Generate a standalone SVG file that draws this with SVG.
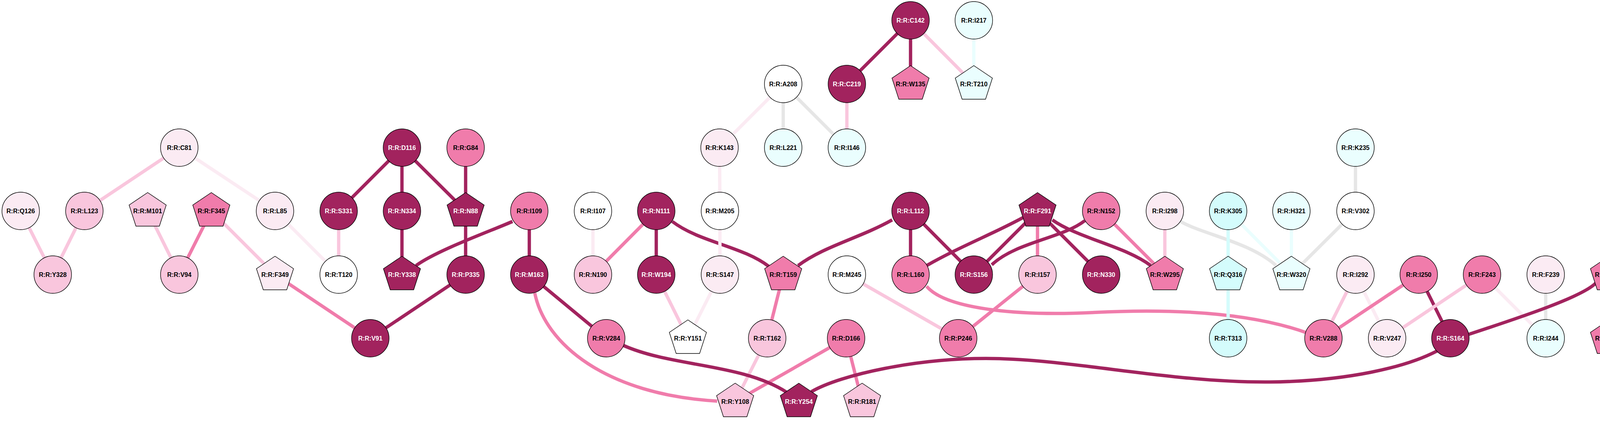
<svg xmlns="http://www.w3.org/2000/svg" xmlns:xlink="http://www.w3.org/1999/xlink" width="4336" height="1083" viewBox="0 0 4336 1083">
<style>
.e{fill:none;stroke-width:8.5}
.ed{stroke:#A2235E}.em{stroke:#F07CAB}.el{stroke:#F9C6DD}.ev{stroke:#FBEBF3}.eg{stroke:#E6E6E6}.ec{stroke:#D4FCFC}.elc{stroke:#EAFEFE}
.n{stroke:#000;stroke-width:1.4}
.d{fill:#A2235E}.m{fill:#F07CAB}.l{fill:#F9C6DD}.v{fill:#FBEBF3}.w{fill:#FFFFFF}.c{fill:#D4FCFC}.lc{fill:#EAFEFE}
text{font-family:"Liberation Sans",Arial,sans-serif;font-weight:bold;font-size:16px;text-anchor:middle;fill:#000}
text.t{fill:#fff}
</style>
<defs>
<polygon id="pent" points="0,-47 47.5,-15 30,39 -30,39 -47.5,-15"/>
</defs>
<g id="connectors">
<line class="e el" x1="459" y1="378" x2="216" y2="540"/>
<line class="e ev" x1="459" y1="378" x2="704" y2="540"/>
<line class="e el" x1="53" y1="540" x2="135" y2="703"/>
<line class="e el" x1="216" y1="540" x2="135" y2="703"/>
<line class="e el" x1="378" y1="540" x2="459" y2="703"/>
<line class="e em" x1="541" y1="540" x2="459" y2="703"/>
<line class="e el" x1="541" y1="540" x2="704" y2="703"/>
<line class="e ev" x1="704" y1="540" x2="867" y2="703"/>
<line class="e el" x1="867" y1="540" x2="867" y2="703"/>
<line class="e em" x1="704" y1="703" x2="948" y2="866"/>
<line class="e ed" x1="1029" y1="378" x2="867" y2="540"/>
<line class="e ed" x1="1029" y1="378" x2="1029" y2="540"/>
<line class="e ed" x1="1029" y1="378" x2="1192" y2="540"/>
<line class="e ed" x1="1192" y1="378" x2="1192" y2="540"/>
<line class="e ed" x1="1029" y1="540" x2="1029" y2="703"/>
<line class="e ed" x1="1192" y1="540" x2="1192" y2="703"/>
<path class="e ed" d="M1312,567 C1260,590 1120,640 1065,680"/>
<line class="e ed" x1="1355" y1="540" x2="1355" y2="703"/>
<line class="e ed" x1="1192" y1="703" x2="948" y2="866"/>
<line class="e ev" x1="1518" y1="540" x2="1518" y2="703"/>
<line class="e em" x1="1680" y1="540" x2="1518" y2="703"/>
<line class="e ed" x1="1680" y1="540" x2="1680" y2="703"/>
<path class="e ed" d="M1721,567 C1790,620 1900,630 1968,682"/>
<line class="e ed" x1="1355" y1="703" x2="1552" y2="866"/>
<path class="e em" d="M1369,750 C1395,880 1550,1010 1836,1027"/>
<line class="e el" x1="1680" y1="703" x2="1761" y2="866"/>
<line class="e ev" x1="1843" y1="703" x2="1761" y2="866"/>
<line class="e ev" x1="1843" y1="540" x2="1843" y2="703"/>
<line class="e ev" x1="1842" y1="378" x2="1843" y2="540"/>
<line class="e ev" x1="2005" y1="215" x2="1842" y2="378"/>
<line class="e eg" x1="2005" y1="215" x2="2005" y2="378"/>
<line class="e eg" x1="2005" y1="215" x2="2168" y2="378"/>
<line class="e el" x1="2168" y1="215" x2="2168" y2="378"/>
<line class="e ed" x1="2331" y1="52" x2="2168" y2="215"/>
<line class="e ed" x1="2331" y1="52" x2="2331" y2="215"/>
<line class="e el" x1="2331" y1="52" x2="2493" y2="215"/>
<line class="e elc" x1="2493" y1="52" x2="2493" y2="215"/>
<path class="e ed" d="M2284,563 C2200,610 2110,630 2043,680"/>
<line class="e ed" x1="2331" y1="540" x2="2331" y2="703"/>
<line class="e ed" x1="2331" y1="540" x2="2493" y2="703"/>
<line class="e em" x1="2005" y1="703" x2="1964" y2="866"/>
<line class="e el" x1="1964" y1="866" x2="1882" y2="1028"/>
<line class="e em" x1="2166" y1="866" x2="1882" y2="1028"/>
<line class="e em" x1="2166" y1="866" x2="2207" y2="1028"/>
<path class="e ed" d="M1595,884 C1720,940 1900,930 2015,1005"/>
<line class="e el" x1="2168" y1="703" x2="2453" y2="866"/>
<path class="e ed" d="M2619,557 C2540,600 2460,630 2372,680"/>
<line class="e ed" x1="2656" y1="540" x2="2493" y2="703"/>
<line class="e em" x1="2656" y1="540" x2="2656" y2="703"/>
<line class="e ed" x1="2656" y1="540" x2="2819" y2="703"/>
<path class="e ed" d="M2694,563 C2760,610 2880,630 2946,680"/>
<path class="e ed" d="M2777,565 C2720,610 2600,620 2539,678"/>
<line class="e em" x1="2819" y1="540" x2="2982" y2="703"/>
<line class="e el" x1="2982" y1="540" x2="2982" y2="703"/>
<path class="e eg" d="M3022,567 C3080,600 3200,620 3267,680"/>
<path class="e em" d="M2372,733 C2420,790 2600,810 2800,800 C3000,790 3200,800 3345,852"/>
<line class="e em" x1="2656" y1="703" x2="2453" y2="866"/>
<path class="e ed" d="M2077,1003 C2150,960 2350,915 2544,918 C2750,921 3000,980 3250,978 C3450,976 3600,940 3680,898"/>
<line class="e ec" x1="3144" y1="540" x2="3144" y2="703"/>
<line class="e elc" x1="3144" y1="540" x2="3306" y2="703"/>
<line class="e elc" x1="3306" y1="540" x2="3306" y2="703"/>
<line class="e eg" x1="3470" y1="540" x2="3306" y2="703"/>
<line class="e eg" x1="3470" y1="378" x2="3470" y2="540"/>
<line class="e ec" x1="3144" y1="703" x2="3144" y2="866"/>
<line class="e el" x1="3470" y1="703" x2="3388" y2="866"/>
<line class="e ev" x1="3470" y1="703" x2="3551" y2="866"/>
<line class="e em" x1="3632" y1="703" x2="3388" y2="866"/>
<line class="e ed" x1="3632" y1="703" x2="3713" y2="866"/>
<line class="e el" x1="3794" y1="703" x2="3551" y2="866"/>
<line class="e ev" x1="3794" y1="703" x2="3957" y2="866"/>
<line class="e eg" x1="3957" y1="703" x2="3957" y2="866"/>
<path class="e ed" d="M4085,725 C4050,760 3900,810 3760,856"/>
<line class="e em" x1="4119" y1="703" x2="4119" y2="866"/>
<line class="e em" x1="4282" y1="703" x2="4119" y2="866"/>
<line class="e ev" x1="4282" y1="703" x2="4282" y2="866"/>
<line class="e ev" x1="4282" y1="866" x2="4282" y2="1028"/>
</g>
<g id="nodes">
<g id="C142"><circle class="n d" cx="2331" cy="52" r="48"/><text class="t" x="2331" y="57.5">R:R:C142</text></g>
<g id="I217"><circle class="n lc" cx="2493" cy="52" r="48"/><text x="2493" y="57.5">R:R:I217</text></g>
<g id="A208"><circle class="n w" cx="2005" cy="215" r="48"/><text x="2005" y="220.5">R:R:A208</text></g>
<g id="C219"><circle class="n d" cx="2168" cy="215" r="48"/><text class="t" x="2168" y="220.5">R:R:C219</text></g>
<g id="W135"><use xlink:href="#pent" class="n m" x="2331" y="215"/><text x="2331" y="220.5">R:R:W135</text></g>
<g id="T210"><use xlink:href="#pent" class="n lc" x="2493" y="215"/><text x="2493" y="220.5">R:R:T210</text></g>
<g id="C81"><circle class="n v" cx="459" cy="378" r="48"/><text x="459" y="383.5">R:R:C81</text></g>
<g id="D116"><circle class="n d" cx="1029" cy="378" r="48"/><text class="t" x="1029" y="383.5">R:R:D116</text></g>
<g id="G84"><circle class="n m" cx="1192" cy="378" r="48"/><text x="1192" y="383.5">R:R:G84</text></g>
<g id="K143"><circle class="n v" cx="1842" cy="378" r="48"/><text x="1842" y="383.5">R:R:K143</text></g>
<g id="L221"><circle class="n lc" cx="2005" cy="378" r="48"/><text x="2005" y="383.5">R:R:L221</text></g>
<g id="I146"><circle class="n lc" cx="2168" cy="378" r="48"/><text x="2168" y="383.5">R:R:I146</text></g>
<g id="K235"><circle class="n lc" cx="3470" cy="378" r="48"/><text x="3470" y="383.5">R:R:K235</text></g>
<g id="Q126"><circle class="n v" cx="53" cy="540" r="48"/><text x="53" y="545.5">R:R:Q126</text></g>
<g id="L123"><circle class="n l" cx="216" cy="540" r="48"/><text x="216" y="545.5">R:R:L123</text></g>
<g id="M101"><use xlink:href="#pent" class="n l" x="378" y="540"/><text x="378" y="545.5">R:R:M101</text></g>
<g id="F345"><use xlink:href="#pent" class="n m" x="541" y="540"/><text x="541" y="545.5">R:R:F345</text></g>
<g id="L85"><circle class="n v" cx="704" cy="540" r="48"/><text x="704" y="545.5">R:R:L85</text></g>
<g id="S331"><circle class="n d" cx="867" cy="540" r="48"/><text class="t" x="867" y="545.5">R:R:S331</text></g>
<g id="N334"><circle class="n d" cx="1029" cy="540" r="48"/><text class="t" x="1029" y="545.5">R:R:N334</text></g>
<g id="N88"><use xlink:href="#pent" class="n d" x="1192" y="540"/><text class="t" x="1192" y="545.5">R:R:N88</text></g>
<g id="I109"><circle class="n m" cx="1355" cy="540" r="48"/><text x="1355" y="545.5">R:R:I109</text></g>
<g id="I107"><circle class="n w" cx="1518" cy="540" r="48"/><text x="1518" y="545.5">R:R:I107</text></g>
<g id="N111"><circle class="n d" cx="1680" cy="540" r="48"/><text class="t" x="1680" y="545.5">R:R:N111</text></g>
<g id="M205"><circle class="n w" cx="1843" cy="540" r="48"/><text x="1843" y="545.5">R:R:M205</text></g>
<g id="L112"><circle class="n d" cx="2331" cy="540" r="48"/><text class="t" x="2331" y="545.5">R:R:L112</text></g>
<g id="F291"><use xlink:href="#pent" class="n d" x="2656" y="540"/><text class="t" x="2656" y="545.5">R:R:F291</text></g>
<g id="N152"><circle class="n m" cx="2819" cy="540" r="48"/><text x="2819" y="545.5">R:R:N152</text></g>
<g id="I298"><circle class="n v" cx="2982" cy="540" r="48"/><text x="2982" y="545.5">R:R:I298</text></g>
<g id="K305"><circle class="n c" cx="3144" cy="540" r="48"/><text x="3144" y="545.5">R:R:K305</text></g>
<g id="H321"><circle class="n lc" cx="3306" cy="540" r="48"/><text x="3306" y="545.5">R:R:H321</text></g>
<g id="V302"><circle class="n w" cx="3470" cy="540" r="48"/><text x="3470" y="545.5">R:R:V302</text></g>
<g id="Y328"><circle class="n l" cx="135" cy="703" r="48"/><text x="135" y="708.5">R:R:Y328</text></g>
<g id="V94"><circle class="n l" cx="459" cy="703" r="48"/><text x="459" y="708.5">R:R:V94</text></g>
<g id="F349"><use xlink:href="#pent" class="n v" x="704" y="703"/><text x="704" y="708.5">R:R:F349</text></g>
<g id="T120"><circle class="n w" cx="867" cy="703" r="48"/><text x="867" y="708.5">R:R:T120</text></g>
<g id="Y338"><use xlink:href="#pent" class="n d" x="1029" y="703"/><text class="t" x="1029" y="708.5">R:R:Y338</text></g>
<g id="P335"><circle class="n d" cx="1192" cy="703" r="48"/><text class="t" x="1192" y="708.5">R:R:P335</text></g>
<g id="M163"><circle class="n d" cx="1355" cy="703" r="48"/><text class="t" x="1355" y="708.5">R:R:M163</text></g>
<g id="N190"><circle class="n l" cx="1518" cy="703" r="48"/><text x="1518" y="708.5">R:R:N190</text></g>
<g id="W194"><circle class="n d" cx="1680" cy="703" r="48"/><text class="t" x="1680" y="708.5">R:R:W194</text></g>
<g id="S147"><circle class="n v" cx="1843" cy="703" r="48"/><text x="1843" y="708.5">R:R:S147</text></g>
<g id="T159"><use xlink:href="#pent" class="n m" x="2005" y="703"/><text x="2005" y="708.5">R:R:T159</text></g>
<g id="M245"><circle class="n w" cx="2168" cy="703" r="48"/><text x="2168" y="708.5">R:R:M245</text></g>
<g id="L160"><circle class="n m" cx="2331" cy="703" r="48"/><text x="2331" y="708.5">R:R:L160</text></g>
<g id="S156"><circle class="n d" cx="2493" cy="703" r="48"/><text class="t" x="2493" y="708.5">R:R:S156</text></g>
<g id="I157"><circle class="n l" cx="2656" cy="703" r="48"/><text x="2656" y="708.5">R:R:I157</text></g>
<g id="N330"><circle class="n d" cx="2819" cy="703" r="48"/><text class="t" x="2819" y="708.5">R:R:N330</text></g>
<g id="W295"><use xlink:href="#pent" class="n m" x="2982" y="703"/><text x="2982" y="708.5">R:R:W295</text></g>
<g id="Q316"><use xlink:href="#pent" class="n c" x="3144" y="703"/><text x="3144" y="708.5">R:R:Q316</text></g>
<g id="W320"><use xlink:href="#pent" class="n lc" x="3306" y="703"/><text x="3306" y="708.5">R:R:W320</text></g>
<g id="I292"><circle class="n v" cx="3470" cy="703" r="48"/><text x="3470" y="708.5">R:R:I292</text></g>
<g id="I250"><circle class="n m" cx="3632" cy="703" r="48"/><text x="3632" y="708.5">R:R:I250</text></g>
<g id="F243"><circle class="n m" cx="3794" cy="703" r="48"/><text x="3794" y="708.5">R:R:F243</text></g>
<g id="F239"><circle class="n v" cx="3957" cy="703" r="48"/><text x="3957" y="708.5">R:R:F239</text></g>
<g id="C253"><use xlink:href="#pent" class="n m" x="4119" y="703"/><text x="4119" y="708.5">R:R:C253</text></g>
<g id="C172"><circle class="n l" cx="4283" cy="703" r="48"/><text x="4283" y="708.5">R:R:C172</text></g>
<g id="V91"><circle class="n d" cx="948" cy="866" r="48"/><text class="t" x="948" y="871.5">R:R:V91</text></g>
<g id="V284"><circle class="n m" cx="1552" cy="866" r="48"/><text x="1552" y="871.5">R:R:V284</text></g>
<g id="Y151"><use xlink:href="#pent" class="n w" x="1761" y="866"/><text x="1761" y="871.5">R:R:Y151</text></g>
<g id="T162"><circle class="n l" cx="1964" cy="866" r="48"/><text x="1964" y="871.5">R:R:T162</text></g>
<g id="D166"><circle class="n m" cx="2166" cy="866" r="48"/><text x="2166" y="871.5">R:R:D166</text></g>
<g id="P246"><circle class="n m" cx="2453" cy="866" r="48"/><text x="2453" y="871.5">R:R:P246</text></g>
<g id="T313"><circle class="n c" cx="3144" cy="866" r="48"/><text x="3144" y="871.5">R:R:T313</text></g>
<g id="V288"><circle class="n m" cx="3388" cy="866" r="48"/><text x="3388" y="871.5">R:R:V288</text></g>
<g id="V247"><circle class="n v" cx="3551" cy="866" r="48"/><text x="3551" y="871.5">R:R:V247</text></g>
<g id="S164"><circle class="n d" cx="3713" cy="866" r="48"/><text class="t" x="3713" y="871.5">R:R:S164</text></g>
<g id="I244"><circle class="n lc" cx="3957" cy="866" r="48"/><text x="3957" y="871.5">R:R:I244</text></g>
<g id="Y168"><use xlink:href="#pent" class="n m" x="4119" y="866"/><text x="4119" y="871.5">R:R:Y168</text></g>
<g id="R260"><circle class="n w" cx="4283" cy="866" r="48"/><text x="4283" y="871.5">R:R:R260</text></g>
<g id="Y108"><use xlink:href="#pent" class="n l" x="1882" y="1028"/><text x="1882" y="1033.5">R:R:Y108</text></g>
<g id="Y254"><use xlink:href="#pent" class="n d" x="2045" y="1028"/><text class="t" x="2045" y="1033.5">R:R:Y254</text></g>
<g id="R181"><use xlink:href="#pent" class="n l" x="2207" y="1028"/><text x="2207" y="1033.5">R:R:R181</text></g>
<g id="V264"><circle class="n v" cx="4283" cy="1028" r="48"/><text x="4283" y="1033.5">R:R:V264</text></g>
</g>
</svg>
